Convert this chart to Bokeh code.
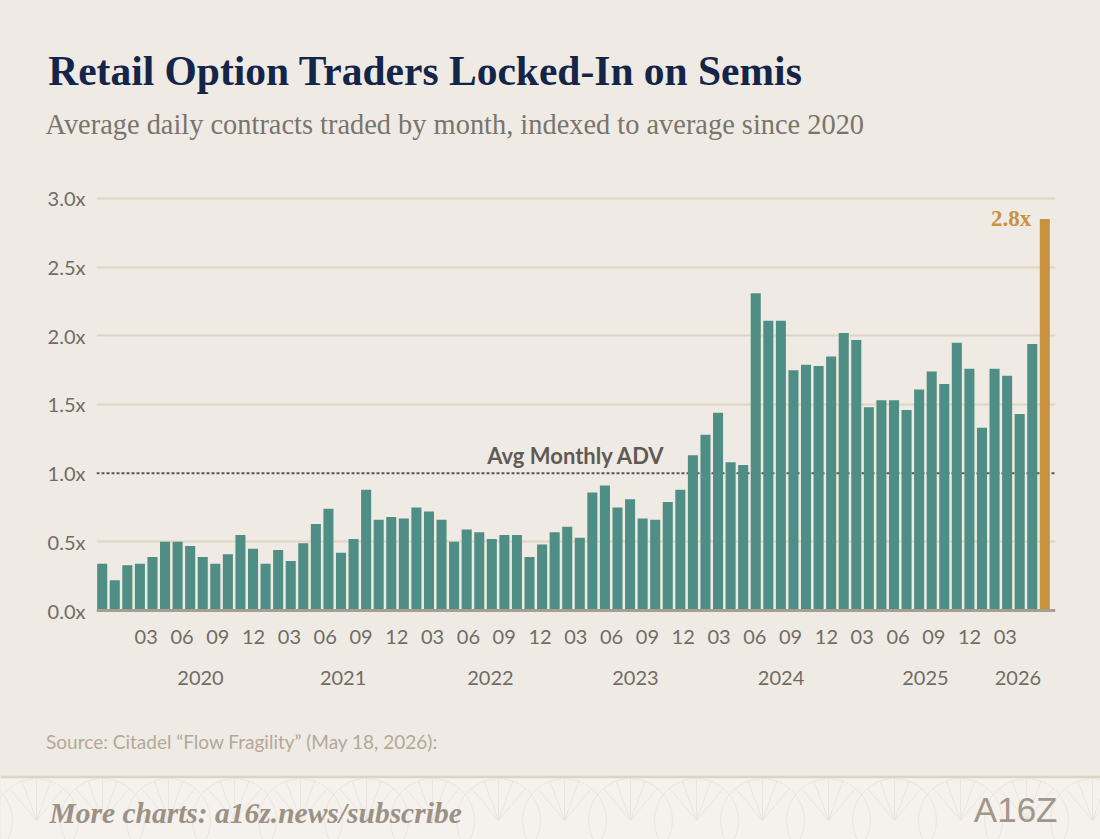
import math
import pandas as pd
from bokeh.plotting import figure
from bokeh.models import (ColumnDataSource, FixedTicker, PrintfTickFormatter,
                          LinearAxis, Range1d, Span, Label, BoxAnnotation)
from bokeh.layouts import column
from bokeh.embed import file_html
from bokeh.resources import INLINE

# ---------------- data ----------------
MONTHS = [d.strftime("%Y-%m") for d in pd.date_range("2020-02-01", periods=76, freq="MS")]
VALUES = [
    0.34, 0.22, 0.33, 0.34, 0.39, 0.50, 0.50, 0.47, 0.39, 0.34, 0.41, 0.55,
    0.45, 0.34, 0.44, 0.36, 0.49, 0.63, 0.74, 0.42, 0.52, 0.88, 0.66, 0.68,
    0.67, 0.75, 0.72, 0.66, 0.50, 0.59, 0.57, 0.52, 0.55, 0.55, 0.39, 0.48,
    0.57, 0.61, 0.53, 0.86, 0.91, 0.75, 0.81, 0.67, 0.66, 0.79, 0.88, 1.13,
    1.28, 1.44, 1.08, 1.06, 2.31, 2.11, 2.11, 1.75, 1.79, 1.78, 1.85, 2.02,
    1.97, 1.48, 1.53, 1.53, 1.46, 1.61, 1.74, 1.65, 1.95, 1.76, 1.33, 1.76,
    1.71, 1.43, 1.94, 2.85,
]
AVG_LEVEL = 1.0
AVG_LABEL = "Avg Monthly ADV"
Y_TICKS = [0.0, 0.5, 1.0, 1.5, 2.0, 2.5, 3.0]
GRID_TICKS = [0.5, 1.5, 2.0, 2.5, 3.0]
MONTH_TICK_LABELS = ["03", "06", "09", "12"] * 6 + ["03"]
YEAR_LABELS = ["2020", "2021", "2022", "2023", "2024", "2025", "2026"]

TITLE = "Retail Option Traders Locked-In on Semis"
SUBTITLE = "Average daily contracts traded by month, indexed to average since 2020"
SOURCE = "Source: Citadel \u201cFlow Fragility\u201d (May 18, 2026):"
FOOTER = "More charts: a16z.news/subscribe"
LOGO = "A16Z"

# ---------------- layout / style ----------------
W = 1100
BG = "#efebe4"
FOOT_BG = "#f5f2ed"
PATTERN = "#e7e1d8"
TEAL = "#4f8e84"
GOLD = "#c8923f"
NAVY = "#14254a"
AXIS_TXT = "#716b65"
GRID = "#ddd4c4"

# tick label positions on the calendar scale (months since Jan 2020)
MONTH_TICK_POS = [2 + 3 * k for k in range(len(MONTH_TICK_LABELS))]
YEAR_TICK_POS = [6.55, 18.5, 30.85, 43.0, 55.2, 67.3, 75.05]

BG_STYLE = {"background-color": BG}

# ---------------- header ----------------
h = figure(width=W, height=160, x_range=Range1d(0, W), y_range=Range1d(160, 0),
           x_axis_type=None, y_axis_type=None, output_backend="svg",
           toolbar_location=None, min_border=0,
           background_fill_color=BG, border_fill_color=BG, outline_line_color=None)
h.add_layout(Label(x=47.7, y=70.8, text=TITLE, text_font="Liberation Serif",
                   text_font_style="bold", text_font_size="41.5px", text_color=NAVY,
                   text_baseline="middle"))
h.add_layout(Label(x=45, y=123.5, text=SUBTITLE, text_font="Liberation Serif",
                   text_font_size="28.4px", text_color="#7a746d",
                   text_baseline="middle"))

# ---------------- main chart ----------------
idx = list(range(len(VALUES)))
colors = [TEAL] * (len(VALUES) - 1) + [GOLD]
source = ColumnDataSource(dict(idx=idx, month=MONTHS, value=VALUES, color=colors))

p = figure(width=W, height=540,
           x_range=Range1d(-0.4535, 75.85), y_range=Range1d(-0.0218, 3.058),
           x_axis_type=None, output_backend="svg", toolbar_location=None,
           min_border_left=96, min_border_right=45, min_border_top=30,
           min_border_bottom=87,
           background_fill_color=BG, border_fill_color=BG,
           outline_line_color=None)
p.extra_x_ranges = {"cal": Range1d(-2.165, 78.20)}

yax = p.yaxis[0]
yax.ticker = FixedTicker(ticks=Y_TICKS)
yax.formatter = PrintfTickFormatter(format="%.1fx")
yax.axis_line_color = None
yax.major_tick_line_color = None
yax.minor_tick_line_color = None
yax.major_tick_out = 0
yax.minor_tick_out = 0
yax.major_label_text_font = "Lato"
yax.major_label_text_font_size = "20px"
yax.major_label_text_color = AXIS_TXT
yax.major_label_standoff = 11

p.ygrid.ticker = FixedTicker(ticks=GRID_TICKS)
p.ygrid.grid_line_color = GRID
p.ygrid.grid_line_width = 2


def make_axis(ticks, labels, standoff):
    ax = LinearAxis(x_range_name="cal", ticker=FixedTicker(ticks=ticks),
                    major_label_overrides={t: l for t, l in zip(ticks, labels)})
    ax.axis_line_color = None
    ax.major_tick_line_color = None
    ax.minor_tick_line_color = None
    ax.major_tick_out = 0
    ax.minor_tick_out = 0
    ax.major_label_text_font = "Lato"
    ax.major_label_text_font_size = "20px"
    ax.major_label_text_color = AXIS_TXT
    ax.major_label_standoff = standoff
    return ax


p.add_layout(make_axis(MONTH_TICK_POS, MONTH_TICK_LABELS, 16), "below")
p.add_layout(make_axis(YEAR_TICK_POS, YEAR_LABELS, 24), "below")

p.add_layout(Span(location=AVG_LEVEL, dimension="width", line_color="#5b5550",
                  line_width=2, line_dash="3 2", level="underlay"))

p.vbar(x="idx", top="value", width=0.8, fill_color="color", line_color=None,
       source=source)

p.add_layout(Span(location=0, dimension="width", line_color="#a89d94", line_width=3))

p.add_layout(Label(x=37.7, y=AVG_LEVEL, y_offset=18, text=AVG_LABEL,
                   text_align="center", text_baseline="middle",
                   text_font="Lato", text_font_style="bold",
                   text_font_size="22px", text_color="#5f5a55"))

last = VALUES[-1]
p.add_layout(Label(x=idx[-1], y=last, x_offset=-13.6, y_offset=1,
                   text=f"{math.floor(last * 10) / 10:.1f}x",
                   text_align="right", text_baseline="middle",
                   text_font="Liberation Serif", text_font_style="bold",
                   text_font_size="23px", text_color=GOLD))

# ---------------- footer ----------------
f = figure(width=W, height=139, x_range=Range1d(0, W), y_range=Range1d(839, 700),
           x_axis_type=None, y_axis_type=None, output_backend="svg",
           toolbar_location=None, min_border=0,
           background_fill_color=BG, border_fill_color=BG, outline_line_color=None)
f.add_layout(BoxAnnotation(top=776, bottom=839, fill_color=FOOT_BG, fill_alpha=1,
                           line_color=None, level="underlay"))

# faint decorative fan pattern in the footer band
fan_cx = list(range(-30, W + 60, 66))
fan_cy, fan_r = 820, 42
f.circle(x=fan_cx, y=[fan_cy] * len(fan_cx), radius=fan_r, fill_color=None,
         line_color=PATTERN, line_width=1, line_alpha=0.8)
rx0, ry0, rx1, ry1 = [], [], [], []
for cx in fan_cx:
    for ang in (50, 70, 90, 110, 130):
        a = math.radians(ang)
        rx0.append(cx)
        ry0.append(fan_cy)
        rx1.append(cx + fan_r * math.cos(a))
        ry1.append(fan_cy - fan_r * math.sin(a))
f.segment(x0=rx0, y0=ry0, x1=rx1, y1=ry1, line_color=PATTERN, line_width=1,
          line_alpha=0.8)

f.add_layout(Span(location=776.5, dimension="width", line_color="#ddd4c2",
                  line_width=2.5))
f.add_layout(Label(x=45.6, y=741.4, text=SOURCE, text_font="Lato",
                   text_font_size="19px", text_color="#b3a897",
                   text_baseline="middle"))
f.add_layout(Label(x=49, y=812.8, text=FOOTER, text_font="Liberation Serif",
                   text_font_style="bold italic", text_font_size="29.5px",
                   text_color="#9b9184", text_baseline="middle"))
f.add_layout(Label(x=1057, y=809, text=LOGO, text_align="right",
                   text_font="Liberation Sans", text_font_size="35px",
                   text_color="#a1978b", text_baseline="middle"))

layout = column(column(h, styles=BG_STYLE), p, column(f, styles=BG_STYLE),
                spacing=0, styles=BG_STYLE)
open("out.html", "w").write(file_html(layout, INLINE))
